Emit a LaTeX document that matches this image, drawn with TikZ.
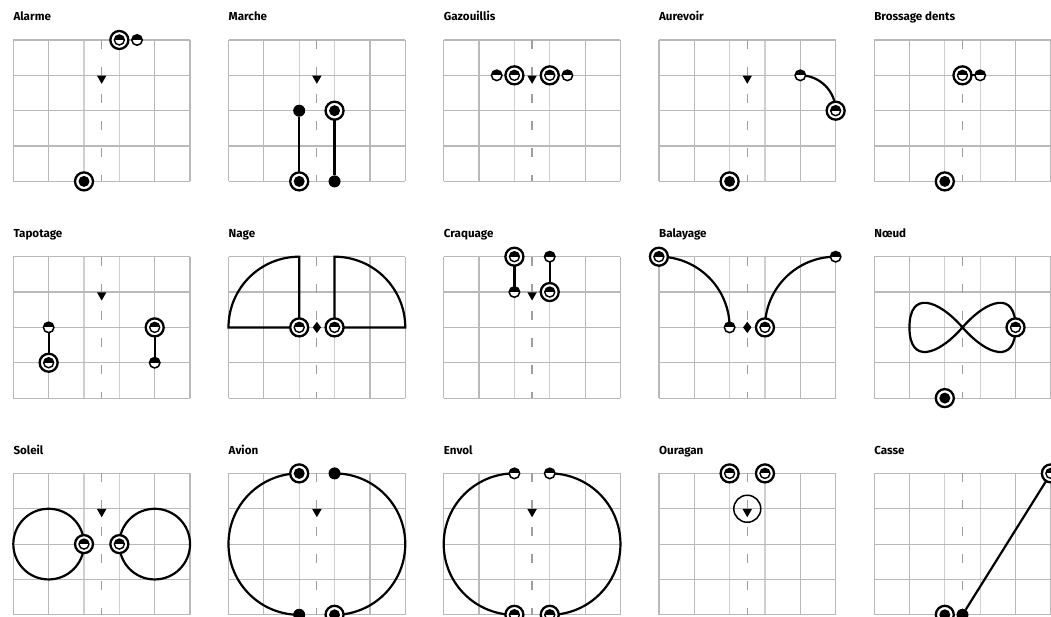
\documentclass[tikz,border=0pt]{standalone}
\usepackage{fontspec}
\setsansfont{Fira Sans}
\usetikzlibrary{shapes.geometric}

\pgfdeclarelayer{grid}
\pgfdeclarelayer{lines}
\pgfsetlayers{grid,lines,main}

% inner half-filled disc of a ring marker
\newcommand\halfin{%
  \begin{scope}
    \clip (path picture bounding box.center) circle[radius=5pt];
    \fill[black] ([xshift=-6pt]path picture bounding box.center) rectangle ([xshift=6pt,yshift=6pt]path picture bounding box.center);
  \end{scope}
  \draw[line width=1.4pt] (path picture bounding box.center) circle[radius=5pt];}

% 5x4 grid of one panel, dashed middle line
\newcommand\panelgrid{%
  \begin{pgfonlayer}{grid}
    \foreach \i in {0,1,4,5} \draw[gridline] (\i,0) -- (\i,4);
    \foreach \i in {2,3} \draw[gridlight] (\i,0) -- (\i,4);
    \foreach \j in {0,...,4} \draw[gridline] (0,\j) -- (5,\j);
    \draw[midline] (2.5,0) -- (2.5,4);
  \end{pgfonlayer}}

\begin{document}
\begin{tikzpicture}[
  x=35.35pt, y=-35.35pt,
  gridline/.style={draw=gray!55,line width=1.2pt},
  gridlight/.style={draw=gray!38,line width=1.2pt},
  midline/.style={draw=gray!75,line width=1.2pt,dash pattern=on 9pt off 18pt},
  title/.style={font=\sffamily\bfseries\fontsize{11.6pt}{13pt}\selectfont,anchor=base west,inner sep=0pt,yshift=19.3pt},
  conn/.style={line width=2.2pt},
  mk/.style={circle,inner sep=0pt,outer sep=0pt},
  fdot/.style={mk,fill=black,minimum size=12pt},
  hdot/.style={mk,draw,line width=1.5pt,fill=white,minimum size=10.5pt,
    path picture={\fill[black] ([xshift=-7pt]path picture bounding box.center) rectangle ([xshift=7pt,yshift=7pt]path picture bounding box.center);}},
  ringdot/.style={mk,draw,line width=2.3pt,fill=white,minimum size=18pt,
    path picture={\fill[black] (path picture bounding box.center) circle[radius=5.5pt];}},
  ringhalf/.style={mk,draw,line width=2.3pt,fill=white,minimum size=18pt,path picture={\halfin}},
  tri/.style={regular polygon,regular polygon sides=3,shape border rotate=180,fill=black,inner sep=0pt,minimum size=11pt,anchor=north},
  dia/.style={diamond,fill=black,inner sep=0pt,minimum width=8.5pt,minimum height=11.5pt},
  swirl/.style={circle,draw,line width=1.5pt,inner sep=0pt,minimum size=27pt}
]
\useasboundingbox (0pt,0pt) rectangle (1051pt,-617pt);

% ---- row 1
\begin{scope}[shift={(13.3pt,-40pt)}]
\panelgrid
\node[title] (t1) at (0,0) {Alarme};
\node[ringhalf] (al1) at (3,0) {};
\node[hdot] (al2) at (3.5,0) {};
\node[tri] (al3) at (2.5,1) {};
\node[ringdot] (al4) at (2,4) {};
\end{scope}

\begin{scope}[shift={(228.5pt,-40pt)}]
\panelgrid
\node[title] (t2) at (0,0) {Marche};
\node[tri] (ma0) at (2.5,1) {};
\node[fdot] (ma1) at (2,2) {};
\node[ringdot] (ma2) at (2,4) {};
\node[ringdot] (ma3) at (3,2) {};
\node[fdot] (ma4) at (3,4) {};
\begin{pgfonlayer}{lines}
\draw[conn] (ma1) -- (ma2);
\draw[conn] (ma3) -- (ma4);
\end{pgfonlayer}
\end{scope}

\begin{scope}[shift={(443.7pt,-40pt)}]
\panelgrid
\node[title] (t3) at (0,0) {Gazouillis};
\node[hdot] (ga1) at (1.5,1) {};
\node[ringhalf] (ga2) at (2,1) {};
\node[tri] (ga0) at (2.5,1) {};
\node[ringhalf] (ga3) at (3,1) {};
\node[hdot] (ga4) at (3.5,1) {};
\end{scope}

\begin{scope}[shift={(658.9pt,-40pt)}]
\panelgrid
\node[title] (t4) at (0,0) {Aurevoir};
\node[tri] (au0) at (2.5,1) {};
\node[hdot] (au1) at (4,1) {};
\node[ringhalf] (au2) at (5,2) {};
\node[ringdot] (au3) at (2,4) {};
\begin{pgfonlayer}{lines}
\draw[conn] (au1.center) arc[start angle=-90,end angle=0,radius=1];
\end{pgfonlayer}
\end{scope}

\begin{scope}[shift={(874.1pt,-40pt)}]
\panelgrid
\node[title] (t5) at (0,0) {Brossage dents};
\node[ringhalf] (br1) at (2.5,1) {};
\node[hdot] (br2) at (3,1) {};
\node[ringdot] (br3) at (2,4) {};
\begin{pgfonlayer}{lines}
\draw[conn] (br1) -- (br2);
\end{pgfonlayer}
\end{scope}

% ---- row 2
\begin{scope}[shift={(13.3pt,-256.7pt)}]
\panelgrid
\node[title] (t6) at (0,0) {Tapotage};
\node[tri] (ta0) at (2.5,1) {};
\node[hdot] (ta1) at (1,2) {};
\node[ringhalf] (ta2) at (1,3) {};
\node[ringhalf] (ta3) at (4,2) {};
\node[hdot] (ta4) at (4,3) {};
\begin{pgfonlayer}{lines}
\draw[conn] (ta1) -- (ta2);
\draw[conn] (ta3) -- (ta4);
\end{pgfonlayer}
\end{scope}

\begin{scope}[shift={(228.5pt,-256.7pt)}]
\panelgrid
\node[title] (t7) at (0,0) {Nage};
\node[ringhalf] (na1) at (2,2) {};
\node[dia] (na0) at (2.5,2) {};
\node[ringhalf] (na2) at (3,2) {};
\begin{pgfonlayer}{lines}
\draw[conn,line join=miter] (na1.center) -- (2,0) arc[start angle=-90,end angle=-180,radius=2] -- cycle;
\draw[conn,line join=miter] (na2.center) -- (3,0) arc[start angle=-90,end angle=0,radius=2] -- cycle;
\end{pgfonlayer}
\end{scope}

\begin{scope}[shift={(443.7pt,-256.7pt)}]
\panelgrid
\node[title] (t8) at (0,0) {Craquage};
\node[ringhalf] (cr1) at (2,0) {};
\node[hdot] (cr2) at (2,1) {};
\node[tri] (cr0) at (2.5,1) {};
\node[hdot] (cr3) at (3,0) {};
\node[ringhalf] (cr4) at (3,1) {};
\begin{pgfonlayer}{lines}
\draw[conn] (cr1) -- (cr2);
\draw[conn] (cr3) -- (cr4);
\end{pgfonlayer}
\end{scope}

\begin{scope}[shift={(658.9pt,-256.7pt)}]
\panelgrid
\node[title] (t9) at (0,0) {Balayage};
\node[ringhalf] (ba1) at (0,0) {};
\node[hdot] (ba2) at (2,2) {};
\node[dia] (ba0) at (2.5,2) {};
\node[ringhalf] (ba3) at (3,2) {};
\node[hdot] (ba4) at (5,0) {};
\begin{pgfonlayer}{lines}
\draw[conn] (ba1.center) arc[start angle=-90,end angle=0,radius=2];
\draw[conn] (ba3.center) arc[start angle=180,end angle=270,radius=2];
\end{pgfonlayer}
\end{scope}

\begin{scope}[shift={(874.1pt,-256.7pt)}]
\panelgrid
\node[title] (t10) at (0,0) {Nœud};
\coordinate (ne0) at (2.5,2);
\node[ringhalf] (ne1) at (4,2) {};
\node[ringdot] (ne2) at (2,4) {};
\begin{pgfonlayer}{lines}
\draw[conn] (ne0) .. controls (3.2,1.2) and (4,0.95) .. (ne1.center)
  .. controls (4,3.05) and (3.2,2.8) .. (ne0)
  .. controls (1.8,1.2) and (1,0.95) .. (1,2)
  .. controls (1,3.05) and (1.8,2.8) .. (ne0);
\end{pgfonlayer}
\end{scope}

% ---- row 3
\begin{scope}[shift={(13.3pt,-473.4pt)}]
\panelgrid
\node[title] (t11) at (0,0) {Soleil};
\node[tri] (so0) at (2.5,1) {};
\node[ringhalf] (so1) at (2,2) {};
\node[ringhalf] (so2) at (3,2) {};
\begin{pgfonlayer}{lines}
\draw[conn] (1,2) circle[radius=1];
\draw[conn] (4,2) circle[radius=1];
\end{pgfonlayer}
\end{scope}

\begin{scope}[shift={(228.5pt,-473.4pt)}]
\panelgrid
\node[title] (t12) at (0,0) {Avion};
\node[ringdot] (av1) at (2,0) {};
\node[fdot] (av2) at (3,0) {};
\node[tri] (av0) at (2.5,1) {};
\node[fdot] (av3) at (2,4) {};
\node[ringdot] (av4) at (3,4) {};
\begin{pgfonlayer}{lines}
\draw[conn] (av1.center) arc[start angle=-90,end angle=-270,radius=2];
\draw[conn] (av2.center) arc[start angle=-90,end angle=90,radius=2];
\end{pgfonlayer}
\end{scope}

\begin{scope}[shift={(443.7pt,-473.4pt)}]
\panelgrid
\node[title] (t13) at (0,0) {Envol};
\node[hdot] (en1) at (2,0) {};
\node[hdot] (en2) at (3,0) {};
\node[tri] (en0) at (2.5,1) {};
\node[ringhalf] (en3) at (2,4) {};
\node[ringhalf] (en4) at (3,4) {};
\begin{pgfonlayer}{lines}
\draw[conn] (en1.center) arc[start angle=-90,end angle=-270,radius=2];
\draw[conn] (en2.center) arc[start angle=-90,end angle=90,radius=2];
\end{pgfonlayer}
\end{scope}

\begin{scope}[shift={(658.9pt,-473.4pt)}]
\panelgrid
\node[title] (t14) at (0,0) {Ouragan};
\node[ringhalf] (ou1) at (2,0) {};
\node[ringhalf] (ou2) at (3,0) {};
\node[swirl] (ou3) at (2.5,1) {};
\node[tri] (ou0) at (2.5,1) {};
\end{scope}

\begin{scope}[shift={(874.1pt,-473.4pt)}]
\panelgrid
\node[title] (t15) at (0,0) {Casse};
\node[ringdot] (ca1) at (2,4) {};
\node[fdot] (ca2) at (2.5,4) {};
\node[ringhalf] (ca3) at (5,0) {};
\begin{pgfonlayer}{lines}
\draw[conn] (ca2) -- (ca3);
\end{pgfonlayer}
\end{scope}
\end{tikzpicture}
\end{document}
